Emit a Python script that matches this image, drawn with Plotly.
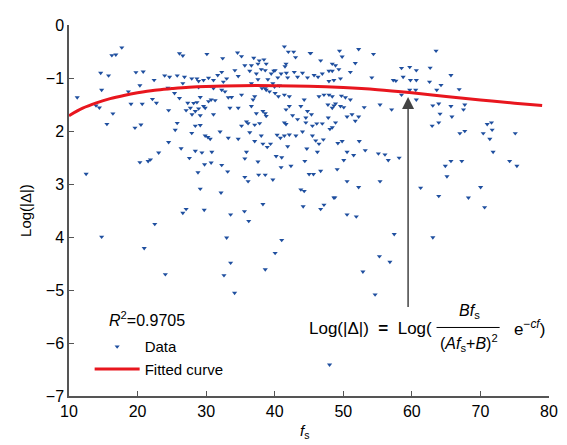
import plotly.graph_objects as go

# ---------------- data ----------------
data_x = [
    17.7, 16.25, 16.83, 26.11, 26.6, 14.62, 15.77, 19.76, 20.82, 23.95, 24.67, 25.78, 26.84, 27.9,
    22.41, 20.34, 26.6, 14.76, 11.2, 18.66, 24.43, 25.39, 26.11, 22.17, 22.75, 27.32, 19.04, 20.68,
    14.43, 13.94, 27.08, 16.4, 24.53, 15.53, 20.49, 19.62, 25.78, 25.49, 27.9, 24.53, 26.35, 23.08,
    27.56, 20.34, 21.54, 21.88, 12.5,
    41.41, 41.99, 42.76, 43.04, 45.16, 30.11, 34.58, 35.16, 32.41, 36.94, 37.75, 38.43, 38.76, 35.64,
    36.6, 37.56, 38.04, 38.62, 41.65, 41.5, 42.85, 44.05, 43.33, 39.87, 39.49, 40.06, 40.93, 41.7,
    34.19, 36.36, 37.32, 34.68, 32.27, 31.69, 31.07, 30.35, 28.66, 28.9, 29.62, 32.99, 32.51, 37.56,
    39.0, 40.45, 41.89, 44.78, 36.6, 39.73, 40.69, 38.14, 38.62, 39.97, 28.9, 31.07, 32.27, 32.75,
    30.59,
    38.76, 39.24, 40.06, 40.54, 41.41, 42.13, 44.3, 35.16, 37.08, 36.84, 33.71, 33.23, 29.14, 28.18,
    28.66, 30.35, 30.73, 31.31, 27.7,
    29.62, 29.86, 28.9, 28.42, 27.94, 29.14, 31.07, 33.47, 34.68, 36.6, 38.28, 38.62, 38.76, 37.32,
    41.65, 42.13, 43.81, 42.61, 43.33, 44.54, 44.78,
    28.42, 29.14, 35.16, 35.88, 36.12, 37.08, 37.8, 41.41, 41.65, 44.54, 45.5,
    29.86, 30.25, 30.59, 32.03, 33.23, 34.68, 36.36, 37.08, 38.04, 40.35, 40.83, 41.41, 42.13, 43.09,
    44.05,
    38.28, 38.91, 39.39, 41.89, 44.68, 28.42, 29.38, 30.83, 35.88,
    35.64, 37.56, 40.21, 41.02, 44.39, 29.77, 30.73, 32.27, 42.37,
    28.81, 33.14, 37.66, 38.62, 40.93, 45.02, 35.64, 36.12, 39.73,
    29.14, 32.17, 43.81, 44.3,
    45.26, 49.45, 52.24, 49.83, 54.4, 46.7, 48.39, 48.87, 51.75, 49.35, 45.74, 46.32, 46.94, 47.91,
    48.39, 49.59, 51.03, 47.91, 48.63, 54.16, 58.49, 59.69, 60.65, 62.67, 57.29, 57.67, 58.73, 59.79,
    60.65, 62.58, 46.46, 47.18, 47.91, 48.39, 49.73, 50.31, 51.03, 47.76, 48.63, 48.87, 49.59, 50.07,
    48.39, 53.05, 55.36, 57.05, 58.49, 59.69, 60.56, 60.65,
    45.36, 46.13, 46.94, 47.81, 48.87, 50.55, 51.27, 52.24, 51.75, 48.05, 48.39, 45.5, 45.98, 46.46,
    47.09, 49.21, 49.83, 52.33, 53.2, 50.55, 51.51, 55.12, 56.08, 56.56, 58.15, 46.22, 50.07, 46.7,
    45.65, 49.11, 50.55, 55.36, 52.24, 48.63, 61.28,
    63.53, 65.7, 64.25, 63.63, 66.9, 63.05, 63.92, 65.7, 67.72, 67.53, 64.11, 65.84, 62.96, 63.92,
    70.99, 71.61, 71.71, 75.08, 67.0, 67.72, 70.41, 71.37, 71.85, 65.7, 67.28, 74.26, 64.88, 75.32,
    65.12, 70.03, 63.92, 68.25,
    27.08, 26.6, 29.72, 33.57, 35.59, 36.21, 38.28, 44.15, 22.51, 14.76, 20.97, 32.99, 41.02, 40.06,
    33.57, 24.05, 32.6, 38.62, 34.15,
    48.77, 46.7, 47.18, 50.55, 51.9, 57.43, 55.27, 56.8, 52.86, 54.64, 48.0, 70.61, 63.06,
]
data_y = [
    -0.425, -0.573, -0.56, -0.536, -0.58, -0.905, -0.955, -0.893, -0.88, -0.955, -0.98, -0.955, -0.98, -1.01,
    -1.04, -1.14, -1.10, -1.225, -1.367, -1.256, -1.188, -1.287, -1.38, -1.397, -1.47, -1.47, -1.49, -1.49,
    -1.56, -1.52, -1.61, -1.67, -1.61, -1.87, -1.88, -1.94, -1.85, -1.98, -2.04, -2.21, -2.33, -2.41,
    -2.51, -2.59, -2.57, -2.54, -2.81,
    -0.406, -0.505, -0.505, -0.61, -0.53, -0.548, -0.523, -0.591, -0.628, -0.622, -0.671, -0.653, -0.733, -0.764,
    -0.764, -0.733, -0.837, -0.856, -0.733, -0.782, -0.887, -0.905, -0.979, -0.868, -0.918, -0.856, -0.918, -0.905,
    -0.856, -0.868, -0.918, -0.967, -0.887, -0.948, -1.041, -0.998, -1.01, -1.059, -1.041, -1.01, -1.071, -1.028,
    -1.028, -0.991, -0.991, -0.991, -1.102, -1.102, -1.145, -1.195, -1.195, -1.164, -1.176, -1.195, -1.225, -1.256,
    -1.152,
    -1.225, -1.256, -1.287, -1.349, -1.318, -1.349, -1.41, -1.318, -1.349, -1.41, -1.361, -1.367, -1.361, -1.472,
    -1.459, -1.441, -1.41, -1.422, -1.564,
    -1.533, -1.564, -1.576, -1.626, -1.687, -1.706, -1.687, -1.564, -1.564, -1.533, -1.626, -1.669, -1.718, -1.669,
    -1.595, -1.533, -1.533, -1.706, -1.78, -1.749, -1.626,
    -1.903, -1.89, -1.903, -1.823, -1.854, -1.884, -1.854, -1.841, -1.872, -1.841, -1.903,
    -2.088, -2.118, -2.149, -2.014, -2.131, -2.149, -2.026, -2.192, -2.088, -2.075, -2.131, -2.088, -2.069, -2.088,
    -2.014,
    -2.241, -2.303, -2.241, -2.291, -2.334, -2.377, -2.408, -2.396, -2.396,
    -2.519, -2.58, -2.476, -2.5, -2.568, -2.63, -2.599, -2.642, -2.66,
    -2.783, -2.765, -2.826, -2.826, -2.685, -2.814, -2.87, -2.95, -2.919,
    -3.091, -3.165, -3.104, -3.134,
    -0.53, -0.487, -0.456, -0.597, -0.548, -0.671, -0.733, -0.764, -0.72, -0.837, -0.948, -0.979, -0.918, -0.868,
    -0.868, -1.01, -0.887, -1.059, -1.041, -0.991, -0.813, -0.794, -0.856, -0.807, -1.041, -1.053, -0.979, -1.041,
    -1.041, -1.071, -1.349, -1.318, -1.318, -1.349, -1.336, -1.367, -1.41, -1.503, -1.521, -1.484, -1.533, -1.552,
    -1.564, -1.552, -1.503, -1.595, -1.318, -1.225, -1.225, -1.41,
    -1.687, -1.86, -1.86, -1.749, -1.841, -1.73, -1.687, -1.73, -1.81, -1.964, -1.934, -2.088, -2.18, -2.241,
    -2.161, -2.229, -2.192, -2.192, -2.365, -2.396, -2.457, -2.426, -2.445, -2.55, -2.506, -2.396, -2.55, -2.753,
    -2.814, -2.722, -2.95, -2.95, -3.06, -3.258, -3.073,
    -0.487, -0.948, -1.133, -1.225, -1.213, -1.521, -1.484, -1.533, -1.503, -1.595, -1.675, -1.73, -1.903, -1.841,
    -1.872, -1.841, -1.977, -2.044, -2.044, -2.001, -2.044, -2.149, -2.396, -2.568, -2.568, -2.568, -2.66, -2.66,
    -2.857, -3.06, -3.227, -3.258,
    -3.472, -3.546, -3.49, -3.577, -3.515, -3.7, -3.38, -3.423, -3.755, -3.996, -4.211, -4.014, -4.057, -4.303,
    -4.488, -4.704, -4.722, -4.611, -5.055,
    -3.257, -3.472, -3.392, -3.577, -3.614, -3.946, -4.365, -4.47, -4.654, -5.085, -6.41, -3.441, -4.008,
]

fit_x = [10, 12, 14, 16, 18, 20, 22.5, 25, 27.5, 30, 35, 40, 45, 50, 55, 60, 65, 70, 75, 79]
fit_y = [-1.71, -1.57, -1.47, -1.39, -1.33, -1.28, -1.23, -1.20, -1.175, -1.16, -1.145, -1.145,
         -1.155, -1.18, -1.22, -1.28, -1.35, -1.415, -1.475, -1.52]

x_ticks = [10, 20, 30, 40, 50, 60, 70, 80]
y_ticks = [0, -1, -2, -3, -4, -5, -6, -7]
y_tick_text = ["0", "\u22121", "2", "3", "4", "\u22125", "\u22126", "\u22127"]

FONT = "Liberation Sans, Arial, sans-serif"
BLUE = "#1f4f9f"
RED = "#e8161e"
AX = "#555555"

fig = go.Figure()
fig.add_trace(go.Scatter(
    x=data_x, y=data_y, mode="markers", name="Data",
    marker=dict(symbol="triangle-down", size=4.5, color=BLUE),
))
fig.add_trace(go.Scatter(
    x=fit_x, y=fit_y, mode="lines", name="Fitted curve",
    line=dict(color=RED, width=3, shape="spline"),
))

# the page body adds an 8px margin, so the figure is 8px smaller than the window
fig.update_layout(
    width=559, height=437,
    margin=dict(l=61, r=13, t=9, b=49),
    paper_bgcolor="white", plot_bgcolor="white",
    font=dict(family=FONT, size=16, color="black"),
    showlegend=True,
    legend=dict(x=0.043, y=0.177, xanchor="left", yanchor="top",
                bgcolor="rgba(0,0,0,0)", borderwidth=0,
                font=dict(size=15), itemwidth=45, tracegroupgap=0),
    xaxis=dict(range=[10, 80], tickvals=x_ticks, showline=True, linecolor=AX, linewidth=1.5,
               ticks="inside", ticklen=5, tickcolor=AX, tickwidth=1.2, showgrid=False,
               zeroline=False, mirror=False, tickfont=dict(size=16)),
    yaxis=dict(range=[-7, 0], tickvals=y_ticks, ticktext=y_tick_text, showline=True,
               linecolor=AX, linewidth=1.5, ticks="inside", ticklen=5, tickcolor=AX,
               tickwidth=1.2, showgrid=False, zeroline=False, mirror=False,
               tickfont=dict(size=16)),
)

# axis titles
fig.add_annotation(text="Log(|\u0394|)", xref="paper", yref="paper", x=-0.0907, y=0.5,
                   textangle=-90, showarrow=False, font=dict(size=15),
                   xanchor="center", yanchor="middle")
fig.add_annotation(text="<i>f</i><sub>s</sub>", xref="paper", yref="paper", x=0.491, y=-0.095,
                   showarrow=False, font=dict(size=15), xanchor="center", yanchor="middle")

# R^2
fig.add_annotation(text="<i>R</i><sup>2</sup>=0.9705", x=15.6, y=-5.54, showarrow=False,
                   xanchor="left", yanchor="middle", font=dict(size=16))

# arrow
fig.add_annotation(x=59.45, y=-1.36, ax=59.45, ay=-5.35, axref="x", ayref="y",
                   text="", showarrow=True, arrowhead=2, arrowsize=1.6, arrowwidth=1.5,
                   arrowcolor="#444444", standoff=0)

# formula
fig.add_annotation(text="Log(|\u0394|)\u00a0\u00a0<b>=</b>\u00a0\u00a0Log(", x=44.78, y=-5.726,
                   showarrow=False, xanchor="left", yanchor="middle", font=dict(size=17))
fig.add_annotation(text="<i>Bf</i><sub>s</sub>", x=68.4, y=-5.41, showarrow=False,
                   xanchor="center", yanchor="middle", font=dict(size=16))
fig.add_annotation(text="(<i>Af</i><sub>s</sub>+<i>B</i>)<sup>2</sup>", x=68.4, y=-6.0,
                   showarrow=False, xanchor="center", yanchor="middle", font=dict(size=16))
fig.add_shape(type="line", x0=63.6, x1=72.8, y0=-5.707, y1=-5.707, xref="x", yref="y",
              line=dict(color="black", width=1))
fig.add_annotation(text="e<sup>\u2212<i>cf</i></sup>)", x=74.6, y=-5.726, showarrow=False,
                   xanchor="left", yanchor="middle", font=dict(size=17))

fig.write_html("out.html")
